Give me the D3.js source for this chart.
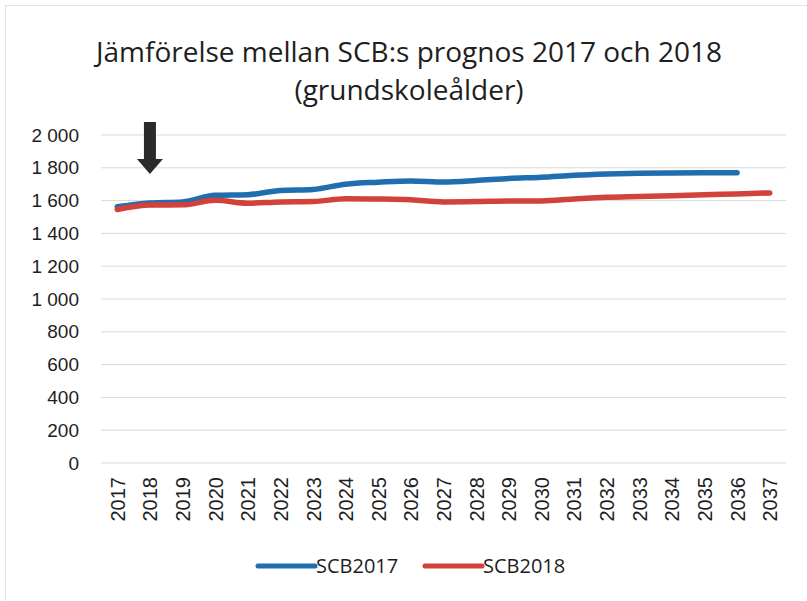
<!DOCTYPE html>
<html>
<head>
<meta charset="utf-8">
<script src="https://cdn.jsdelivr.net/npm/d3@7"></script>
<style>
  body { margin: 0; background: #fff; }
  svg { display: block; font-family: "Open Sans", "Noto Sans", sans-serif; }
</style>
</head>
<body>
<div id="chart"></div>
<script>

// data
var years = ["2017","2018","2019","2020","2021","2022","2023","2024","2025","2026","2027",
             "2028","2029","2030","2031","2032","2033","2034","2035","2036","2037"];
var scb2017 = [1562,1585,1592,1632,1636,1662,1668,1700,1712,1720,1713,
               1722,1735,1742,1754,1762,1767,1769,1770,1770,null];
var scb2018 = [1546,1573,1574,1602,1584,1592,1594,1612,1610,1605,1592,
               1594,1598,1598,1610,1620,1625,1630,1636,1641,1647];
var yTicks = [0,200,400,600,800,1000,1200,1400,1600,1800,2000];
var seriesNames = ["SCB2017","SCB2018"];
var seriesColors = ["#1f6eb0","#d2413a"];

var W = 807, H = 601;
var margin = {top: 135, right: 21, bottom: 138, left: 101},
    width = W - margin.left - margin.right,
    height = H - margin.top - margin.bottom;

var svg = d3.select("#chart")
    .append("svg")
        .attr("width", W)
        .attr("height", H);

// faint scan border
svg.append("rect")
    .attr("x", 5.5).attr("y", 5.5)
    .attr("width", W - 4).attr("height", H - 4)
    .attr("fill", "none")
    .attr("stroke", "#e4e4e4");

// title
var title = svg.append("text")
    .attr("text-anchor", "middle")
    .attr("font-size", 28)
    .attr("fill", "#1e1e1e");
title.append("tspan").attr("x", 409).attr("y", 62).text("Jämförelse mellan SCB:s prognos 2017 och 2018");
title.append("tspan").attr("x", 409).attr("y", 100).text("(grundskoleålder)");

var g = svg.append("g")
    .attr("transform", "translate(" + margin.left + "," + margin.top + ")");

var xScale = d3.scalePoint()
    .domain(years)
    .range([0, width])
    .padding(0.5);

var yScale = d3.scaleLinear()
    .domain([0, 2000])
    .range([height, 0]);

// gridlines
g.append("g")
    .selectAll("line")
    .data(yTicks)
    .join("line")
        .attr("x1", 0)
        .attr("x2", width)
        .attr("y1", function(d) { return yScale(d); })
        .attr("y2", function(d) { return yScale(d); })
        .attr("stroke", "#d9d9d9")
        .attr("stroke-width", 1);

// y axis labels
var yAxis = d3.axisLeft(yScale)
    .tickValues(yTicks)
    .tickSize(0)
    .tickPadding(22)
    .tickFormat(function(d) { return d >= 1000 ? d3.format(",")(d).replace(",", " ") : d; });

g.append("g")
    .attr("class", "y axis")
    .call(yAxis)
    .call(function(s) { s.select(".domain").remove(); })
    .selectAll("text")
        .attr("font-size", 19)
        .attr("fill", "#1e1e1e");

// x axis labels
var xAxis = d3.axisBottom(xScale).tickSize(0).tickPadding(0);
g.append("g")
    .attr("transform", "translate(0," + height + ")")
    .call(xAxis)
    .call(function(s) { s.select(".domain").remove(); })
    .selectAll("text")
        .attr("font-size", 20)
        .attr("fill", "#1e1e1e")
        .attr("text-anchor", "end")
        .attr("transform", "rotate(-90)")
        .attr("x", -14)
        .attr("y", 0)
        .attr("dy", "0.35em");

// lines
var valueline = d3.line()
    .defined(function(d) { return d.value != null; })
    .x(function(d) { return xScale(d.year); })
    .y(function(d) { return yScale(d.value); })
    .curve(d3.curveMonotoneX);

[scb2017, scb2018].forEach(function(vals, i) {
    var pts = years.map(function(y, j) { return {year: y, value: vals[j]}; });
    g.append("path")
        .attr("class", "line" + i)
        .attr("d", valueline(pts))
        .attr("fill", "none")
        .attr("stroke", seriesColors[i])
        .attr("stroke-width", 5.5)
        .attr("stroke-linecap", "round")
        .attr("stroke-linejoin", "round");
});

// arrow pointing at 2018
var ax = margin.left + xScale("2018");
var arrow = svg.append("g").attr("transform", "translate(" + ax + ",0)");
arrow.append("rect")
    .attr("x", -6).attr("y", 122)
    .attr("width", 12).attr("height", 40)
    .attr("fill", "#2b2b2b");
arrow.append("path")
    .attr("d", "M-13,159 L13,159 L0,174 Z")
    .attr("fill", "#2b2b2b");

// legend
var legend = svg.append("g").attr("transform", "translate(258,566)");
var legX = [0, 167];
seriesNames.forEach(function(name, i) {
    var lg = legend.append("g").attr("transform", "translate(" + legX[i] + ",0)");
    lg.append("line")
        .attr("x1", 0).attr("x2", 57)
        .attr("y1", 0).attr("y2", 0)
        .attr("stroke", seriesColors[i])
        .attr("stroke-width", 5)
        .attr("stroke-linecap", "round");
    lg.append("text")
        .attr("x", 58)
        .attr("y", 0)
        .attr("dy", "0.35em")
        .attr("font-size", 20)
        .attr("fill", "#1e1e1e")
        .text(name);
});

</script>
</body>
</html>
